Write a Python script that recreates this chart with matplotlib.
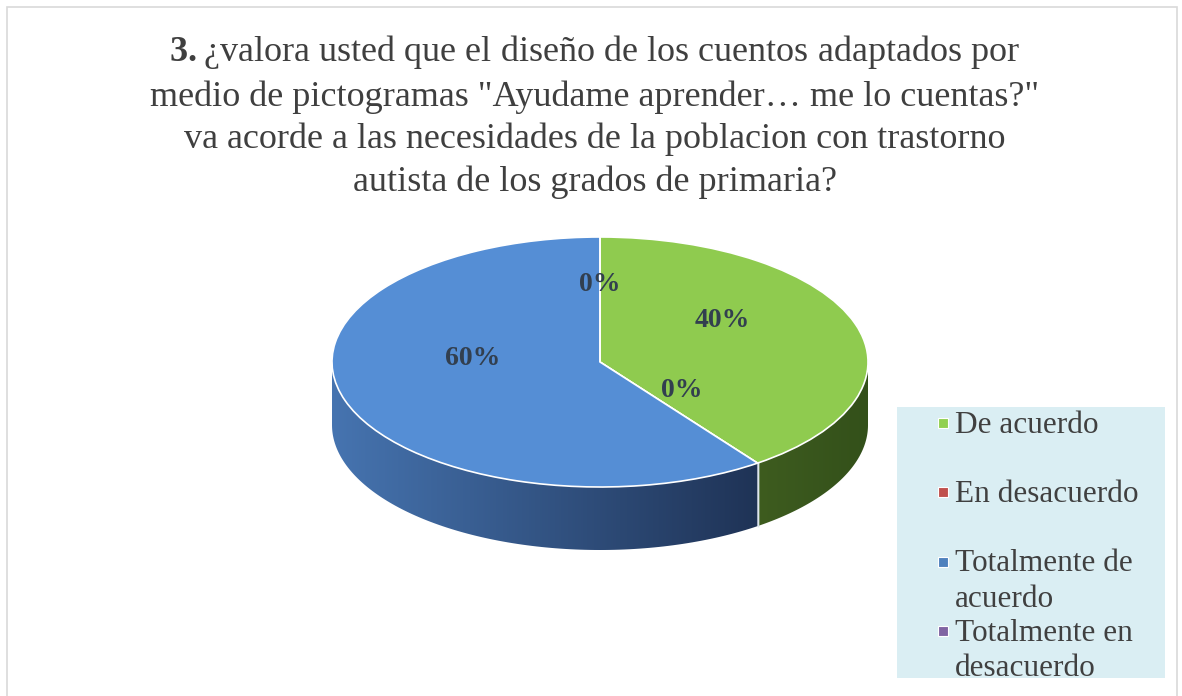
import numpy as np
import matplotlib.pyplot as plt
from matplotlib.patches import Polygon, Rectangle
from matplotlib.colors import LinearSegmentedColormap

plt.rcParams['font.family'] = ['Liberation Serif', 'DejaVu Serif']
plt.rcParams['mathtext.fontset'] = 'custom'
plt.rcParams['mathtext.rm'] = 'Liberation Serif'
plt.rcParams['mathtext.bf'] = 'Liberation Serif:bold'

# datos de la grafica
categorias = ['De acuerdo', 'En desacuerdo', 'Totalmente de\nacuerdo', 'Totalmente en\ndesacuerdo']
porcentajes = [40, 0, 60, 0]
etiquetas = ['40%', '0%', '60%', '0%']

titulo = ('$\\mathbf{3.}$¿valora usted que el diseño de los cuentos adaptados por\n'
          'medio de pictogramas "Ayudame aprender… me lo cuentas?"\n'
          'va acorde a las necesidades de la poblacion con trastorno\n'
          'autista de los grados de primaria?')

# estilos
col_sup = ['#8FCB4F', '#C0504D', '#558ED5', '#8064A2']
col_lado = [('#3E5C1F', '#33501A'), ('#7A2E2C', '#5A201E'),
            ('#4674B0', '#1F3356'), ('#4F3E66', '#3A2D4C')]
col_ley = ['#92D050', '#C0504D', '#4F81BD', '#8064A2']
pos_etiq = [(0.455, 0.33), (0.306, -0.232), (-0.474, 0.024), (0.0, 0.62)]
prof = 0.504  # grosor del "3D" en unidades del radio vertical

W, H = 1182, 696
fig = plt.figure(figsize=(W / 100, H / 100), dpi=100)
fig.patches.append(Rectangle((7 / W, -0.02), (1177 - 7) / W, (H - 7) / H + 0.02,
                             transform=fig.transFigure, fill=False,
                             edgecolor='#D9D9D9', linewidth=1.2))

fig.text(0.503, 1 - 33 / H, titulo, ha='center', va='top', fontsize=26,
         color='#3F3F3F', linespacing=1.36)

# pastel (cara superior)
ax = fig.add_axes([332 / W, 146 / H, 536 / W, 313 / H])
cunas, _ = ax.pie(porcentajes, colors=col_sup, startangle=90, counterclock=False,
                  wedgeprops=dict(edgecolor='white', linewidth=1.2, zorder=3, clip_on=False))

# lados con degradado
for w, (c1, c2) in zip(cunas, col_lado):
    t1, t2 = w.theta1, w.theta2
    for k in (-360, 0, 360):
        a, b = max(t1, k - 180), min(t2, k)
        if b - a <= 0:
            continue
        t = np.radians(np.linspace(a, b, 120))
        xs, ys = np.cos(t), np.sin(t)
        pts = np.vstack([np.column_stack([xs, ys]),
                         np.column_stack([xs[::-1], ys[::-1] - prof])])
        poly = Polygon(pts, closed=True, facecolor='none', edgecolor='none')
        ax.add_patch(poly)
        cmap = LinearSegmentedColormap.from_list('lado', [c1, c2])
        grad = np.tile(np.linspace(0, 1, 256), (2, 1))
        im = ax.imshow(grad, cmap=cmap, aspect='auto', zorder=1,
                       extent=(xs.min(), xs.max(), -1 - prof, 0))
        im.set_clip_path(poly)
    if np.sin(np.radians(t1)) < 0:
        xa, ya = np.cos(np.radians(t1)), np.sin(np.radians(t1))
        ax.plot([xa, xa], [ya, ya - prof], color='#DDE6EE', lw=1, zorder=2)

for (x, y), s in zip(pos_etiq, etiquetas):
    ax.text(x, y, s, ha='center', va='center', fontsize=20, fontweight='bold',
            color='#323F4F', zorder=5)

ax.set_aspect('auto')
ax.set_xlim(-1, 1)
ax.set_ylim(-1 - prof, 1)
ax.axis('off')

# leyenda
axl = fig.add_axes([897 / W, (H - 678) / H, (1165 - 897) / W, (678 - 407) / H])
axl.set_facecolor('#DAEEF3')
axl.set_xlim(0, 1)
axl.set_ylim(1, 0)
axl.set_xticks([])
axl.set_yticks([])
for sp in axl.spines.values():
    sp.set_visible(False)
for i, (nom, c) in enumerate(zip(categorias, col_ley)):
    yc = 0.059 + i * 0.2557
    axl.plot(0.172, yc, marker='s', markersize=6.5, color=c, markeredgecolor='white',
             markeredgewidth=0.8)
    axl.text(0.215, yc - 0.045, nom, ha='left', va='top', fontsize=22.5,
             color='#404040', linespacing=1.28)

fig.savefig('out.png', dpi=100)
